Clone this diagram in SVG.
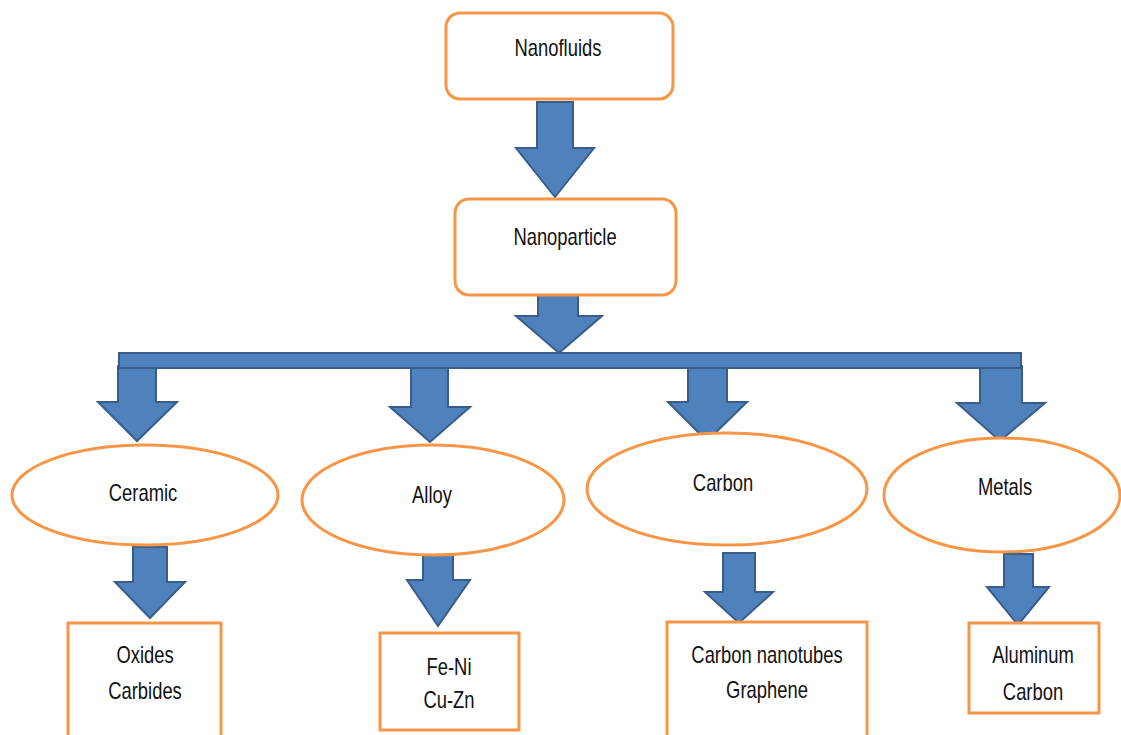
<svg xmlns="http://www.w3.org/2000/svg" width="1121" height="735" viewBox="0 0 1121 735">
<style>
.box{fill:#fff;stroke:#F79646;stroke-width:3}
.arr{fill:#4F81BD;stroke:#385D8A;stroke-width:2;stroke-linejoin:miter}
.t{font-family:"Liberation Sans",Arial,sans-serif;font-size:23px;fill:#111;text-anchor:middle}
</style>
<rect width="1121" height="735" fill="#fff"/>
<g id="connectors">
<polygon class="arr" points="537,102 573,102 573,148 594,148 555,197 516,148 537,148"/>
<polygon class="arr" points="538,288 578,288 578,316 602,316 559,353 516,316 538,316"/>
<polygon class="arr" points="118,366 156,366 156,402 177,402 137,441 98,402 118,402"/>
<polygon class="arr" points="411,366 448,366 448,407 470,407 430,442 390,407 411,407"/>
<polygon class="arr" points="688,366 727,366 727,402 747,402 707,441 668,402 688,402"/>
<polygon class="arr" points="980,366 1022,366 1022,403 1045,403 1000,441 957,403 980,403"/>
<rect class="arr" x="119" y="353" width="902" height="15"/>
<polygon class="arr" points="133,547 167,547 167,582 185,582 150,618 115,582 133,582"/>
<polygon class="arr" points="423,554 453,554 453,580 470,580 438,626 407,580 423,580"/>
<polygon class="arr" points="723,553 755,553 755,592 773,592 739,623 705,592 723,592"/>
<polygon class="arr" points="1004,554 1033,554 1033,587 1049,587 1018,625 987,587 1004,587"/>
</g>
<g id="nanofluids"><rect class="box" x="446" y="13" width="227" height="86" rx="14"/><text class="t" transform="translate(558,56) scale(0.8,1)">Nanofluids</text></g>
<g id="nanoparticle"><rect class="box" x="455" y="199" width="221" height="96" rx="14"/><text class="t" transform="translate(565,245) scale(0.8,1)">Nanoparticle</text></g>
<g id="ceramic"><ellipse class="box" cx="145" cy="495" rx="133" ry="50"/><text class="t" transform="translate(143,501) scale(0.8,1)">Ceramic</text></g>
<g id="alloy"><ellipse class="box" cx="433" cy="500" rx="131" ry="55"/><text class="t" transform="translate(432,503) scale(0.8,1)">Alloy</text></g>
<g id="carbon"><ellipse class="box" cx="727" cy="489" rx="140" ry="56"/><text class="t" transform="translate(723,491) scale(0.8,1)">Carbon</text></g>
<g id="metals"><ellipse class="box" cx="1002" cy="495" rx="118" ry="57"/><text class="t" transform="translate(1005,495) scale(0.8,1)">Metals</text></g>
<g id="oxides"><rect class="box" x="68" y="623" width="153" height="130"/><text class="t" transform="translate(145,663) scale(0.8,1)">Oxides</text><text class="t" transform="translate(145,699) scale(0.8,1)">Carbides</text></g>
<g id="feni"><rect class="box" x="380" y="633" width="139" height="97"/><text class="t" transform="translate(449,675) scale(0.8,1)">Fe-Ni</text><text class="t" transform="translate(449,708) scale(0.8,1)">Cu-Zn</text></g>
<g id="cnt"><rect class="box" x="667" y="622" width="200" height="130"/><text class="t" transform="translate(767,663) scale(0.8,1)">Carbon nanotubes</text><text class="t" transform="translate(767,698) scale(0.8,1)">Graphene</text></g>
<g id="aluminum"><rect class="box" x="969" y="623" width="130" height="90"/><text class="t" transform="translate(1033,663) scale(0.8,1)">Aluminum</text><text class="t" transform="translate(1033,700) scale(0.8,1)">Carbon</text></g>
</svg>
